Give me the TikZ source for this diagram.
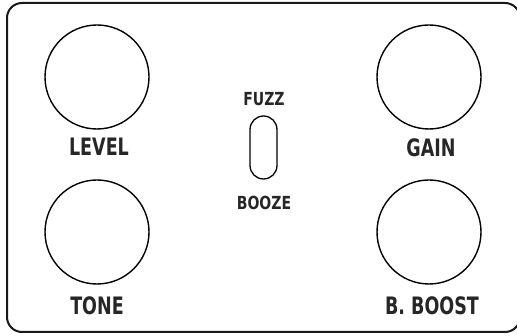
\documentclass[tikz,border=0pt]{standalone}
\usepackage{fontspec}
\setmainfont{DejaVu Sans}
\begin{document}
\begin{tikzpicture}[x=1pt,y=-1pt,
  knob/.style={draw=black,circle,line width=1.4pt,minimum size=104pt,inner sep=0pt},
  biglabel/.style={text=black!85,font=\fontsize{24}{25}\selectfont\bfseries,inner sep=0pt},
  smalllabel/.style={text=black!85,font=\fontsize{18}{19}\selectfont\bfseries,inner sep=0pt},
  toggle/.style={draw=black,line width=1.3pt,rounded corners=13.5pt,minimum width=27pt,minimum height=63pt,inner sep=0pt},
  panel/.style={draw=black!90,line width=2pt,rounded corners=15pt}]
\useasboundingbox (0,0) rectangle (517,336);
\clip (0,0) rectangle (517,336);
\draw[panel] (7,3) rectangle (520,332);
\node[knob] (level) at (97,77) {};
\node[knob] (gain) at (429,77) {};
\node[knob] (tone) at (97,232) {};
\node[knob] (boost) at (429,232) {};
\node[biglabel] (levell) at (99,147) {\scalebox{0.73}[1]{LEVEL}};
\node[biglabel] (gainl) at (431,148) {\scalebox{0.73}[1]{GAIN}};
\node[biglabel] (tonel) at (97,306) {\scalebox{0.73}[1]{TONE}};
\node[biglabel] (boostl) at (432,306) {\scalebox{0.73}[1]{B. BOOST}};
\node[toggle] (sw) at (263.5,147.5) {};
\node[smalllabel] (fuzz) at (264,99) {\scalebox{0.78}[1]{FUZZ}};
\node[smalllabel] (booze) at (264,203) {\scalebox{0.78}[1]{BOOZE}};
\end{tikzpicture}
\end{document}
